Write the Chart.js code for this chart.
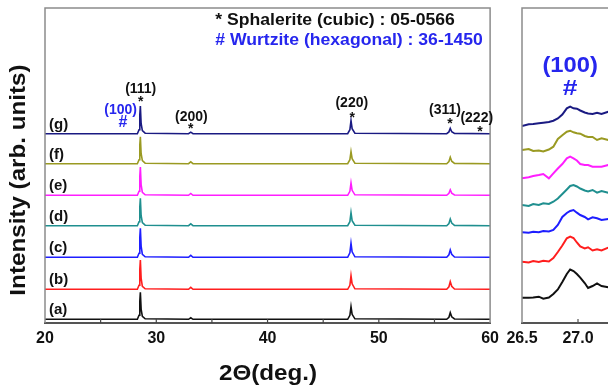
<!DOCTYPE html>
<html>
<head>
<meta charset="utf-8">
<script src="https://cdn.jsdelivr.net/npm/chart.js@4/dist/chart.umd.min.js"></script>
<style>
  html, body { margin: 0; padding: 0; background: #fff; overflow: hidden; }
  body { width: 608px; height: 389px; position: relative; }
  #main { position: absolute; left: 0; top: 0; }
  #inset { position: absolute; left: 500px; top: 0; }
</style>
</head>
<body>
<canvas id="main" width="505" height="389"></canvas>
<canvas id="inset" width="160" height="389"></canvas>
<script>
const FONT = "'Liberation Sans', Arial, sans-serif"

// full pattern, 2theta in degrees
const twoTheta = [20, 28.3, 28.45, 28.52, 28.57, 28.64, 28.75, 29.0, 32.9, 33.1, 33.3, 47.2, 47.4, 47.5, 47.6, 47.85, 56.1, 56.3, 56.42, 56.55, 56.8, 60]
const sampleA = [0, 0, 4, 18, 27, 10, 3, 0.5, 0, 1.5, 0, 0, 4, 12.6, 5, 0.5, 0, 2, 6.6, 2.5, 0.3, 0]
const sampleB = [0, 0, 4, 20, 29.3, 11, 3, 0.5, 0, 2, 0, 0, 4, 13.6, 5.5, 0.5, 0, 2.5, 7.6, 3, 0.3, 0]
const sampleC = [0, 0, 4, 20, 29, 11, 3, 0.5, 0, 2, 0, 0, 4.5, 14, 5.5, 0.5, 0, 2.5, 7.3, 3, 0.3, 0]
const sampleD = [0, 0, 4, 19, 27.4, 10, 3, 0.5, 0, 1.8, 0, 0, 4, 13, 5, 0.5, 0, 2.2, 6.7, 2.6, 0.3, 0]
const sampleE = [0, 0, 4, 19, 28.3, 10.5, 3, 0.5, 0, 1.8, 0, 0, 4, 12.3, 5, 0.5, 0, 2, 5.5, 2.2, 0.3, 0]
const sampleF = [0, 0, 4, 19, 27, 10, 3, 0.5, 0, 1.8, 0, 0, 4, 12, 5, 0.5, 0, 2.2, 6.5, 2.5, 0.3, 0]
const sampleG = [0, 0, 4, 19, 27.7, 10, 3, 0.5, 0, 1.5, 0, 0, 4, 13, 5, 0.5, 0, 1.8, 5.4, 2, 0.3, 0]
const sampleOffsets = [3.7, 33.7, 65.7, 97.3, 127.7, 159.3, 189.3]
const sampleNames = ['(a)', '(b)', '(c)', '(d)', '(e)', '(f)', '(g)']

// zoom on the wurtzite (100) reflection
const insetTheta = [26.50, 26.56, 26.60, 26.65, 26.69, 26.74, 26.78, 26.82, 26.86, 26.90, 26.93, 26.96, 26.99, 27.02, 27.06, 27.09, 27.13, 27.17, 27.21, 27.27]
const insetA = [25.3, 25.3, 25.5, 26.3, 24.3, 25.5, 29, 33.5, 41, 49, 53.5, 52, 49, 45.3, 40, 35, 37, 39.5, 37, 35.7]
const insetB = [61.3, 60.5, 62, 61, 62.3, 61.5, 65, 71, 77.5, 84.7, 86.5, 85, 80.5, 76.5, 74.5, 75.7, 72.5, 73.7, 72.5, 75.3]
const insetC = [90.7, 90.3, 91.3, 90.7, 92, 91.5, 93, 98, 106, 110, 112, 113, 110.3, 108, 106, 103.7, 105.7, 104.7, 103, 104]
const insetD = [118, 117, 119, 118, 119.7, 119, 121.3, 124.5, 129, 133.5, 137, 138, 136.5, 134.5, 132.5, 131.5, 133, 130.3, 132, 130.3]
const insetE = [144.7, 145.7, 147, 148, 149, 144.7, 149.7, 154.5, 159, 164.7, 166.3, 164.7, 162.5, 159, 158, 158, 156.3, 156.3, 156.3, 158]
const insetF = [173, 174, 172, 172.5, 171.5, 173.5, 176.3, 184, 187.7, 191.3, 192.3, 190.7, 189.7, 189.3, 187, 186, 186, 183, 184.7, 183]
const insetG = [197, 198.7, 199, 199.7, 200.3, 201, 202.3, 204.5, 208.5, 214.7, 216.3, 214.7, 214.3, 212.5, 210.5, 209.5, 209, 210.3, 209, 211.3]

const colors = ['#111111', '#ff1e1e', '#1e1eff', '#1f8f8f', '#ff1eff', '#9a9a22', '#1a1a82']
const BLUE = '#2626ee'

// text placed in data units (x: degrees, y: height above the axis)
const mainNotes = [
  { text: '(111)', x: 28.6, y: 234 },
  { text: '*', x: 28.6, y: 221 },
  { text: '(100)', x: 26.8, y: 213, color: BLUE },
  { text: '#', x: 27.0, y: 200, color: BLUE, size: 16 },
  { text: '(200)', x: 33.15, y: 206 },
  { text: '*', x: 33.1, y: 194 },
  { text: '(220)', x: 47.57, y: 220 },
  { text: '*', x: 47.6, y: 205 },
  { text: '(311)', x: 55.95, y: 213 },
  { text: '*', x: 56.4, y: 199 },
  { text: '(222)', x: 58.8, y: 205 },
  { text: '*', x: 59.1, y: 191 },
]
const legendLines = [
  { text: '* Sphalerite (cubic) : 05-0566', x: 35.3, y: 302, color: '#111' },
  { text: '# Wurtzite (hexagonal) : 36-1450', x: 35.3, y: 282, color: BLUE },
]

const mainSets = [sampleA, sampleB, sampleC, sampleD, sampleE, sampleF, sampleG].map((vals, i) => ({
  data: twoTheta.map((x, j) => ({ x, y: vals[j] + sampleOffsets[i] })),
  borderColor: colors[i],
  borderWidth: 1.6,
  pointRadius: 0,
  tension: 0,
}))

const insetSets = [insetA, insetB, insetC, insetD, insetE, insetF, insetG].map((vals, i) => ({
  data: insetTheta.map((x, j) => ({ x, y: vals[j] })),
  borderColor: colors[i],
  borderWidth: 2,
  pointRadius: 0,
  tension: 0,
}))

// the figure's lettering is a little wider than Arial, so stretch it sideways
function drawText(ctx, text, px, py, font, color, align, stretch, angle) {
  ctx.save()
  ctx.translate(px, py)
  if (angle) ctx.rotate(angle)
  ctx.scale(stretch || 1, 1)
  ctx.font = font
  ctx.fillStyle = color
  ctx.textAlign = align || 'center'
  ctx.textBaseline = 'middle'
  ctx.fillText(text, 0, 0)
  ctx.restore()
}

const mainDecor = {
  id: 'mainDecor',
  afterDraw(chart) {
    const { ctx, chartArea: a, scales: { x, y } } = chart
    ctx.save()
    ctx.strokeStyle = '#8c8c8c'
    ctx.lineWidth = 1.5
    ctx.beginPath()
    ctx.moveTo(a.left, a.bottom)
    ctx.lineTo(a.left, a.top)
    ctx.lineTo(a.right, a.top)
    ctx.lineTo(a.right, a.bottom)
    ctx.stroke()

    ctx.strokeStyle = '#444'
    ctx.lineWidth = 1.2
    ctx.beginPath()
    for (let v = 25; v < 60; v += 5) {
      const px = x.getPixelForValue(v)
      ctx.moveTo(px, a.bottom)
      ctx.lineTo(px, a.bottom - 4)
    }
    ctx.stroke()
    ctx.restore()

    sampleNames.forEach((t, i) => {
      drawText(ctx, t, x.getPixelForValue(20.36), y.getPixelForValue(sampleOffsets[i] + 9), 'bold 15px ' + FONT, '#111', 'left')
    })
    mainNotes.forEach(n => {
      drawText(ctx, n.text, x.getPixelForValue(n.x), y.getPixelForValue(n.y), 'bold ' + (n.size || 14) + 'px ' + FONT, n.color || '#111')
    })
    legendLines.forEach(n => {
      drawText(ctx, n.text, x.getPixelForValue(n.x), y.getPixelForValue(n.y), 'bold 16px ' + FONT, n.color, 'left', 1.1)
    })

    drawText(ctx, 'Intensity (arb. units)', 19, 180, 'bold 22px ' + FONT, '#111', 'center', 1.1, -Math.PI / 2)
    drawText(ctx, '2\u0398(deg.)', 268, 374, 'bold 22px ' + FONT, '#111', 'center', 1.1)
  },
}

const insetDecor = {
  id: 'insetDecor',
  afterDraw(chart) {
    const { ctx, chartArea: a, scales: { x, y } } = chart
    ctx.save()
    ctx.strokeStyle = '#8c8c8c'
    ctx.lineWidth = 1.5
    ctx.beginPath()
    ctx.moveTo(a.left, a.bottom)
    ctx.lineTo(a.left, a.top)
    ctx.lineTo(a.right, a.top)
    ctx.stroke()
    ctx.strokeStyle = '#555'
    ctx.lineWidth = 1.2
    ctx.beginPath()
    const px = x.getPixelForValue(27.0)
    ctx.moveTo(px, a.bottom)
    ctx.lineTo(px, a.bottom - 4)
    ctx.stroke()
    ctx.restore()
    drawText(ctx, '(100)', x.getPixelForValue(26.93), y.getPixelForValue(257), 'bold 22px ' + FONT, BLUE, 'center', 1.08)
    drawText(ctx, '#', x.getPixelForValue(26.93), y.getPixelForValue(234), 'bold 22px ' + FONT, BLUE, 'center', 1.2)
  },
}

function xAxis(min, max, step, fmt) {
  return {
    type: 'linear',
    min, max,
    border: { display: true, color: '#555', width: 2 },
    grid: { display: false, drawTicks: false },
    ticks: {
      stepSize: step,
      maxRotation: 0,
      autoSkip: false,
      padding: 6,
      color: '#111',
      font: { family: FONT, size: 16, weight: 'bold' },
      callback: fmt,
    },
    afterFit: s => { s.height = 66 },
  }
}

const common = {
  responsive: false,
  animation: false,
  plugins: { legend: { display: false }, tooltip: { enabled: false } },
}

Chart.defaults.font.family = FONT

new Chart(document.getElementById('main').getContext('2d'), {
  type: 'line',
  data: { datasets: mainSets },
  options: {
    ...common,
    layout: { padding: { left: 45, right: 0, top: 8, bottom: 0 } },
    scales: {
      x: xAxis(20, 60, 10, v => v),
      y: { display: false, min: 0, max: 315 },
    },
  },
  plugins: [mainDecor],
})

new Chart(document.getElementById('inset').getContext('2d'), {
  type: 'line',
  data: { datasets: insetSets },
  options: {
    ...common,
    layout: { padding: { left: 22, right: 26, top: 8, bottom: 0 } },
    scales: {
      x: xAxis(26.5, 27.5, 0.5, v => v.toFixed(1)),
      y: { display: false, min: 0, max: 315 },
    },
  },
  plugins: [insetDecor],
})
</script>
</body>
</html>
